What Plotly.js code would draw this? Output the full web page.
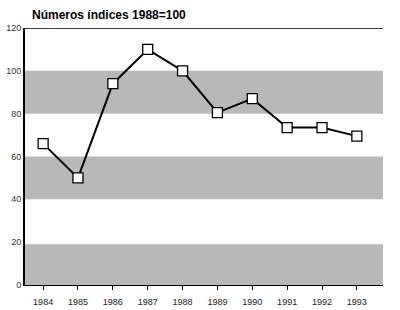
<!DOCTYPE html>
<html><head><meta charset="utf-8">
<script src="https://cdn.plot.ly/plotly-3.0.1.min.js"></script>
<style>body{margin:0;background:#fff}#c{width:400px;height:310px}</style>
</head><body><div id="c"></div>
<script>
const years = [1984,1985,1986,1987,1988,1989,1990,1991,1992,1993];
const indexValues = [66,50,94,110,100,80.5,87,73.5,73.5,69.5];
const bandRanges = [[80,100],[40,60],[0,19]];
const yTicks = [0,20,40,60,80,100,120];

const shapes = bandRanges.map(b => ({type:'rect', xref:'paper', yref:'y', x0:0, x1:1, y0:b[0], y1:b[1], fillcolor:'#b8b8b8', line:{width:0}, layer:'below'}));
shapes.push({type:'line', xref:'paper', yref:'y', x0:0, x1:1, y0:120, y1:120, line:{color:'#000', width:1.5}});

Plotly.newPlot('c', [{
  x: years, y: indexValues, mode:'lines+markers', type:'scatter',
  line:{color:'#000', width:2},
  marker:{symbol:'square', size:10, color:'#fff', line:{color:'#000', width:1.3}}
}], {
  width:400, height:310,
  margin:{l:25, r:17, t:28, b:25},
  paper_bgcolor:'#fff', plot_bgcolor:'#fff',
  showlegend:false,
  title:{text:'<b>Números índices 1988=100</b>', x:32/400, xanchor:'left', y:1-15/310, yref:'container', yanchor:'middle', font:{family:'Liberation Sans, Arial', size:12, color:'#000'}},
  xaxis:{range:[1983.48,1993.75], tickvals:years, ticktext:years.map(String), showgrid:false, zeroline:false, showline:true, linecolor:'#000', linewidth:1, ticks:'outside', ticklen:4, tickcolor:'#000', ticklabelstandoff:4, tickfont:{family:'Liberation Sans, Arial', size:9, color:'#222'}, fixedrange:true},
  yaxis:{range:[0,120], tickvals:yTicks, showgrid:false, zeroline:false, showline:true, linecolor:'#000', linewidth:2, ticks:'', tickfont:{family:'Liberation Sans, Arial', size:9, color:'#333'}, fixedrange:true},
  shapes: shapes
}, {staticPlot:true});
</script></body></html>
